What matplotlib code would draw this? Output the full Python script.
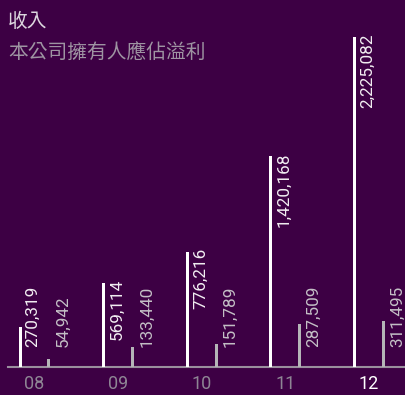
import matplotlib
matplotlib.use("Agg")
import matplotlib.pyplot as plt
from matplotlib.transforms import IdentityTransform
import numpy as np

categories = ["08", "09", "10", "11", "12"]
revenue = [270319, 569114, 776216, 1420168, 2225082]
profit = [54942, 133440, 151789, 287509, 311495]
series_names = ["收入", "本公司擁有人應佔溢利"]

BG = "#3d0044"
W_COL = "#ffffff"
G_COL = "#b5b5b8"

plt.rcParams['font.family'] = ['Roboto', 'Noto Sans CJK TC', 'DejaVu Sans']

fig = plt.figure(figsize=(4.06, 3.95), dpi=100, facecolor=BG)
ax = fig.add_axes([8 / 406, 1 - 367 / 395, 398 / 406, 367 / 395])
ax.set_facecolor(BG)

x = np.arange(len(categories))
off = 0.173
bw = 0.036
ax.bar(x - off, revenue, width=bw, color=W_COL, zorder=3)
ax.bar(x + off, profit, width=bw, color=G_COL, zorder=3)

ax.set_xlim(-0.317, 4.442)
ax.set_ylim(0, 2225082 * 367 / 330)

for s in ["top", "right", "left"]:
    ax.spines[s].set_visible(False)
ax.spines["bottom"].set_color("#9a8f9e")
ax.spines["bottom"].set_linewidth(1.5)
ax.set_yticks([])
ax.set_xticks(x)
ax.set_xticklabels(categories, fontsize=13)
ax.tick_params(axis="x", length=0, pad=6)
for i, t in enumerate(ax.get_xticklabels()):
    t.set_color("#ffffff" if i == len(categories) - 1 else "#8e8594")

fig.canvas.draw()
renderer = fig.canvas.get_renderer()

def place_labels(vals, xs, color, dx):
    for xv, v in zip(xs, vals):
        px0, py0 = ax.transData.transform((xv, 0))
        _, pytop = ax.transData.transform((xv, v))
        h = pytop - py0
        t = ax.text(0, 0, f"{v:,}", rotation=90, ha="left", va="bottom",
                    fontsize=12.3, color=color, transform=IdentityTransform(),
                    zorder=4)
        L = t.get_window_extent(renderer).height
        start = max(h - L + 4, 20)
        t.set_position((px0 + dx, py0 + start))

place_labels(revenue, x - off, "#f2eef2", 5.5)
place_labels(profit, x + off, "#c4c0c6", 6.5)

fig.text(8 / 406, 1 - 11 / 395, series_names[0], fontsize=14.2, color="#dcd6de",
         va="top", ha="left", family=['Noto Sans CJK TC', 'DejaVu Sans'])
fig.text(8 / 406, 1 - 43 / 395, series_names[1], fontsize=14.2, color="#9e94a2",
         va="top", ha="left", family=['Noto Sans CJK TC', 'DejaVu Sans'])

fig.savefig("out.png", dpi=100, facecolor=BG)
